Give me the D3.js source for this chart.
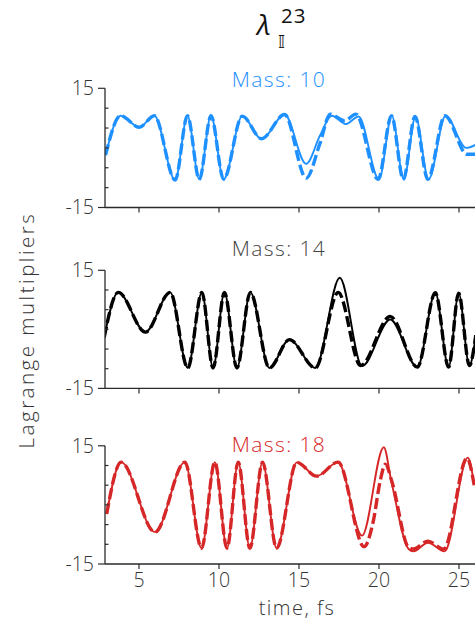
<!DOCTYPE html>
<html>
<head>
<meta charset="utf-8">
<script src="https://cdn.jsdelivr.net/npm/d3@7"></script>
<style>
  html, body { margin: 0; padding: 0; background: #fff; }
  svg { display: block; }
  text { font-family: "Open Sans", "Noto Sans", sans-serif; }
</style>
</head>
<body>
<div id="chart"></div>
<script>
// ---------- data ----------
const times10      = [2.91, 3.85, 5.02, 5.96, 7.26, 8.03, 8.77, 9.5, 10.29, 11.45, 12.66, 14.1, 15.45, 16.3, 17.05, 17.93, 18.72, 20.0, 20.8, 21.55, 22.28, 23.1, 24.16, 25.45, 26.05];
const solid10      = [-1.8, 8.1, 5.2, 8.1, -8.1, 8.1, -7.9, 8.1, -7.9, 8.0, 2.3, 8.4, -4.0, 3.0, 8.1, 6.0, 7.9, -7.9, 8.1, -7.9, 7.9, -7.9, 8.1, 0.0, 0.8];
const dashTimes10  = [2.91, 3.85, 5.02, 5.96, 7.26, 8.03, 8.77, 9.5, 10.29, 11.45, 12.66, 14.1, 15.45, 16.3, 16.95, 17.85, 18.55, 19.95, 20.78, 21.52, 22.25, 23.05, 24.12, 25.5, 26.05];
const dashed10     = [-1.8, 8.1, 5.2, 8.1, -8.1, 8.1, -7.9, 8.1, -7.9, 8.0, 2.3, 8.4, -7.6, 1.0, 8.5, 6.8, 8.5, -7.9, 8.1, -7.9, 7.9, -7.9, 8.1, -1.6, -1.6];

const times14      = [2.82, 3.7, 5.4, 6.95, 8.05, 8.93, 9.63, 10.34, 11.12, 11.96, 13.15, 14.4, 16.02, 17.55, 18.94, 20.7, 22.4, 23.52, 24.35, 24.98, 25.65, 26.05];
const solid14      = [-2.1, 9.4, -0.7, 9.4, -9.8, 9.4, -9.8, 9.4, -9.8, 9.4, -9.8, -2.6, -9.8, 13.1, -9.3, 2.5, -9.6, 9.3, -9.6, 9.2, -9.2, -1.5];
const dashTimes14  = [2.82, 3.7, 5.4, 6.95, 8.05, 8.93, 9.63, 10.34, 11.12, 11.96, 13.15, 14.4, 16.02, 17.45, 18.85, 20.7, 22.4, 23.52, 24.35, 24.98, 25.65, 26.05];
const dashed14     = [-2.1, 9.4, -0.7, 9.4, -9.8, 9.4, -9.8, 9.4, -9.8, 9.4, -9.8, -2.6, -9.8, 9.4, -9.2, 3.3, -9.6, 9.3, -9.6, 9.2, -9.2, -1.5];

const times18      = [2.98, 3.88, 6.0, 7.87, 8.91, 9.74, 10.5, 11.2, 11.93, 12.72, 13.6, 14.86, 16.1, 17.44, 18.94, 20.3, 20.77, 21.85, 22.15, 23.06, 24.1, 25.55, 25.95];
const solid18      = [-2.3, 10.85, -6.9, 10.85, -11.0, 10.85, -11.0, 10.85, -11.0, 10.85, -11.0, 10.8, 7.3, 10.85, -7.8, 14.65, 6.0, -11.2, -11.8, -9.6, -11.8, 12.0, 5.0];
const dashTimes18  = [2.98, 3.88, 6.0, 7.87, 8.91, 9.74, 10.5, 11.2, 11.93, 12.72, 13.6, 14.86, 16.1, 17.44, 19.07, 19.65, 20.07, 20.4, 20.8, 21.85, 22.15, 23.06, 24.05, 25.5, 25.95];
const dashed18     = [-2.3, 10.85, -6.9, 10.85, -11.0, 10.85, -11.0, 10.85, -11.0, 10.85, -11.0, 10.8, 7.3, 10.85, -10.6, -4.0, 6.0, 10.3, 6.0, -10.8, -11.2, -9.2, -11.2, 11.8, 5.0];

const panelTitles  = ["Mass: 10", "Mass: 14", "Mass: 18"];
const panelColors  = ["#1E90FF", "#000000", "#D62728"];
const titleColors  = ["#1E90FF", "#444444", "#D62728"];
const yTicks       = [-15, -10, -5, 0, 5, 10, 15];
const yTickLabels  = ["-15", "15"];
const xTicks       = [5, 10, 15, 20, 25];
const xTickLabels  = ["5", "10", "15", "20", "25"];
const yDomain      = [-15, 15];

// ---------- layout ----------
const W = 475, H = 625;
const plotLeft = 105, plotRight = 475;
const panelsY = [[207.5, 88.3], [388.4, 270.3], [564, 445.8]];
const titleY = [87, 256, 452];
const axisColor = "#2a2a2a";

const svg = d3.select("#chart").append("svg")
  .attr("width", W).attr("height", H);
svg.append("rect").attr("width", W).attr("height", H).attr("fill", "#fff");

const x = d3.scaleLinear().domain([5, 25]).range([139, 459]);

svg.append("clipPath").attr("id", "clipX")
  .append("rect").attr("x", plotLeft).attr("y", 0).attr("width", plotRight - plotLeft).attr("height", H);

const panels = [
  { t: times10, s: solid10, dt: dashTimes10, d: dashed10 },
  { t: times14, s: solid14, dt: dashTimes14, d: dashed14 },
  { t: times18, s: solid18, dt: dashTimes18, d: dashed18 }
];

panels.forEach((p, i) => {
  const y = d3.scaleLinear().domain(yDomain).range(panelsY[i]);
  const g = svg.append("g");
  const col = panelColors[i];

  // title
  g.append("text")
    .attr("x", 279).attr("y", titleY[i])
    .attr("text-anchor", "middle")
    .attr("font-size", 21)
    .attr("font-weight", 300)
    .attr("letter-spacing", 1.4)
    .attr("fill", titleColors[i])
    .text(panelTitles[i]);

  const line = d3.line()
    .x(dd => x(dd[0])).y(dd => y(dd[1]))
    .curve(d3.curveMonotoneX);

  const lines = g.append("g").attr("clip-path", "url(#clipX)");
  lines.append("path")
    .attr("d", line(p.dt.map((t, k) => [t, p.d[k]])))
    .attr("fill", "none").attr("stroke", col)
    .attr("stroke-width", 3.4)
    .attr("stroke-dasharray", "11,4");
  lines.append("path")
    .attr("d", line(p.t.map((t, k) => [t, p.s[k]])))
    .attr("fill", "none").attr("stroke", col)
    .attr("stroke-width", 1.9);

  // left spine
  g.append("line")
    .attr("x1", plotLeft).attr("x2", plotLeft)
    .attr("y1", y(15)).attr("y2", y(-15))
    .attr("stroke", axisColor).attr("stroke-width", 1.3);
  // y ticks
  yTicks.forEach(v => {
    const major = (v === 15 || v === -15);
    g.append("line")
      .attr("x1", major ? plotLeft - 7 : plotLeft)
      .attr("x2", major ? plotLeft : plotLeft + 3.5)
      .attr("y1", y(v)).attr("y2", y(v))
      .attr("stroke", axisColor).attr("stroke-width", 1.2);
  });
  yTickLabels.forEach(lbl => {
    g.append("text")
      .attr("x", 94).attr("y", y(+lbl) + 6.8)
      .attr("text-anchor", "end")
      .attr("font-size", 19.5)
      .attr("font-weight", 300)
      .attr("fill", "#333")
      .text(lbl);
  });

  // bottom spine
  const yb = y(-15);
  g.append("line")
    .attr("x1", plotLeft).attr("x2", plotRight)
    .attr("y1", yb).attr("y2", yb)
    .attr("stroke", axisColor).attr("stroke-width", 1.3);
  xTicks.forEach((v, k) => {
    g.append("line")
      .attr("x1", x(v)).attr("x2", x(v))
      .attr("y1", yb).attr("y2", yb + 5)
      .attr("stroke", axisColor).attr("stroke-width", 1.2);
    if (i === 2) {
      g.append("text")
        .attr("x", x(v)).attr("y", yb + 23)
        .attr("text-anchor", "middle")
        .attr("font-size", 19.5)
        .attr("font-weight", 300)
        .attr("fill", "#333")
        .text(xTickLabels[k]);
    }
  });
});

// x axis label
svg.append("text")
  .attr("x", 297).attr("y", 615)
  .attr("text-anchor", "middle")
  .attr("font-size", 20).attr("font-weight", 300)
  .attr("letter-spacing", 1.5)
  .attr("fill", "#333")
  .text("time, fs");

// y axis label
svg.append("text")
  .attr("transform", "translate(33.5,330) rotate(-90)")
  .attr("text-anchor", "middle")
  .attr("font-size", 20.5).attr("font-weight", 300)
  .attr("letter-spacing", 2.5)
  .attr("fill", "#333")
  .text("Lagrange multipliers");

// main title  λ with subscript 𝕀 and superscript 23 (one text element)
const title = svg.append("text")
  .attr("x", 257).attr("y", 35)
  .attr("fill", "#111");
title.append("tspan")
  .attr("font-size", 28).attr("font-style", "italic")
  .text("λ");
title.append("tspan")
  .attr("x", 278).attr("y", 48)
  .attr("font-size", 18).attr("font-family", "DejaVu Sans, sans-serif")
  .text("𝕀");
title.append("tspan")
  .attr("x", 281).attr("y", 23)
  .attr("font-size", 20.5)
  .attr("letter-spacing", 1)
  .text("23");
</script>
</body>
</html>
